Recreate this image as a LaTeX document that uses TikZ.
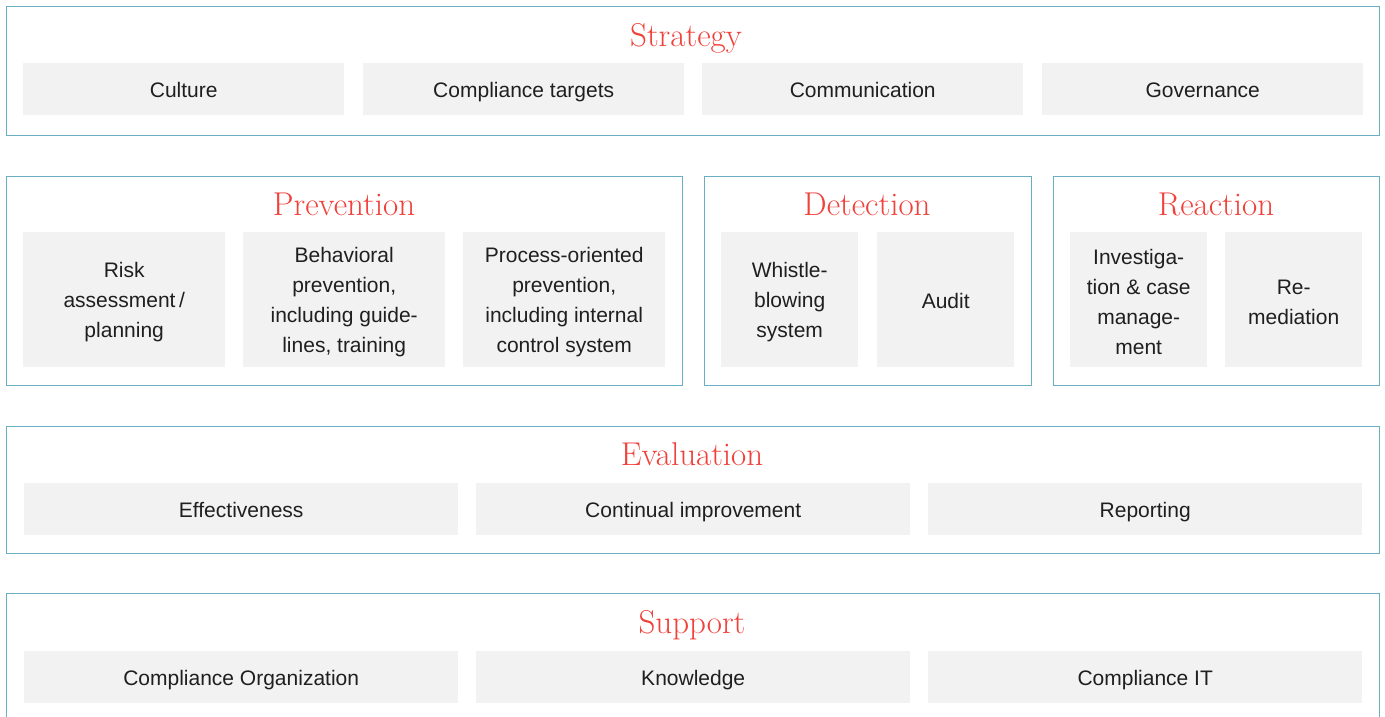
\documentclass[tikz,border=0pt]{standalone}
\usepackage{fontspec}
\newfontfamily\itemfam{Liberation Sans}
\definecolor{framec}{HTML}{6AAEC3}
\definecolor{itemc}{HTML}{F2F2F2}
\definecolor{titlec}{HTML}{F0413A}
\tikzset{
  frame/.style={draw=framec, line width=1.2pt, anchor=north west, inner sep=0pt},
  item/.style={fill=itemc, anchor=north west, inner sep=0pt, align=center,
    font=\itemfam\fontsize{21}{30}\selectfont, text=black!88},
  oneline/.style={item, text height=18pt, text depth=1pt},
  multi/.style={fill=itemc, anchor=north west, inner sep=0pt},
  mtext/.style={inner sep=0pt, align=center,
    font=\itemfam\fontsize{21}{30}\selectfont, text=black!88},
  ttl/.style={text=titlec, font=\fontsize{33}{34}\selectfont, inner sep=0pt,
    text height=25.5pt, text depth=3.5pt}
}
\begin{document}
\begin{tikzpicture}[x=1pt,y=-1pt]
\useasboundingbox (0,0) rectangle (1385,717);
\clip (0,0) rectangle (1385,717);
% Strategy
\node[frame, minimum width=1373pt, minimum height=129pt] (strategy) at (6,6) {};
\node[ttl] (strategyt) at (686,36) {Strategy};
\node[oneline, minimum width=321pt, minimum height=52pt] (culture) at (23,63) {Culture};
\node[oneline, minimum width=321pt, minimum height=52pt] (targets) at (363,63) {Compliance targets};
\node[oneline, minimum width=321pt, minimum height=52pt] (comm) at (702,63) {Communication};
\node[oneline, minimum width=321pt, minimum height=52pt] (gov) at (1042,63) {Governance};
% Prevention
\node[frame, minimum width=676pt, minimum height=209pt] (prevention) at (6,176) {};
\node[ttl] (preventiont) at (344,204) {Prevention};
\node[multi, minimum width=202pt, minimum height=135pt] (risk) at (23,232) {};
\node[mtext] (riskt) at ([yshift=-2.5pt]risk.center) {Risk\\assessment\,/\\planning};
\node[multi, minimum width=202pt, minimum height=135pt] (behav) at (243,232) {};
\node[mtext] (behavt) at ([yshift=-2.5pt]behav.center) {Behavioral\\prevention,\\including guide-\\lines, training};
\node[multi, minimum width=202pt, minimum height=135pt] (proc) at (463,232) {};
\node[mtext] (proct) at ([yshift=-2.5pt]proc.center) {Process-oriented\\prevention,\\including internal\\control system};
% Detection
\node[frame, minimum width=327pt, minimum height=209pt] (detection) at (704,176) {};
\node[ttl] (detectiont) at (867,204) {Detection};
\node[multi, minimum width=137pt, minimum height=135pt] (whistle) at (721,232) {};
\node[mtext] (whistlet) at ([yshift=-2.5pt]whistle.center) {Whistle-\\blowing\\system};
\node[oneline, minimum width=137pt, minimum height=135pt] (audit) at (877,232) {Audit};
% Reaction
\node[frame, minimum width=326pt, minimum height=209pt] (reaction) at (1053,176) {};
\node[ttl] (reactiont) at (1216,204) {Reaction};
\node[multi, minimum width=137pt, minimum height=135pt] (invest) at (1070,232) {};
\node[mtext] (investt) at ([yshift=-2.5pt]invest.center) {Investiga-\\tion \& case\\manage-\\ment};
\node[multi, minimum width=137pt, minimum height=135pt] (remed) at (1225,232) {};
\node[mtext] (remedt) at ([yshift=-2.5pt]remed.center) {Re-\\mediation};
% Evaluation
\node[frame, minimum width=1373pt, minimum height=127pt] (evaluation) at (6,426) {};
\node[ttl] (evaluationt) at (692,454) {Evaluation};
\node[oneline, minimum width=434pt, minimum height=52pt] (effect) at (24,483) {Effectiveness};
\node[oneline, minimum width=434pt, minimum height=52pt] (improve) at (476,483) {Continual improvement};
\node[oneline, minimum width=434pt, minimum height=52pt] (report) at (928,483) {Reporting};
% Support
\node[frame, minimum width=1373pt, minimum height=140pt] (support) at (6,593) {};
\node[ttl] (supportt) at (692,622) {Support};
\node[oneline, minimum width=434pt, minimum height=52pt] (org) at (24,651) {Compliance Organization};
\node[oneline, minimum width=434pt, minimum height=52pt] (know) at (476,651) {Knowledge};
\node[oneline, minimum width=434pt, minimum height=52pt] (it) at (928,651) {Compliance IT};
\end{tikzpicture}
\end{document}
